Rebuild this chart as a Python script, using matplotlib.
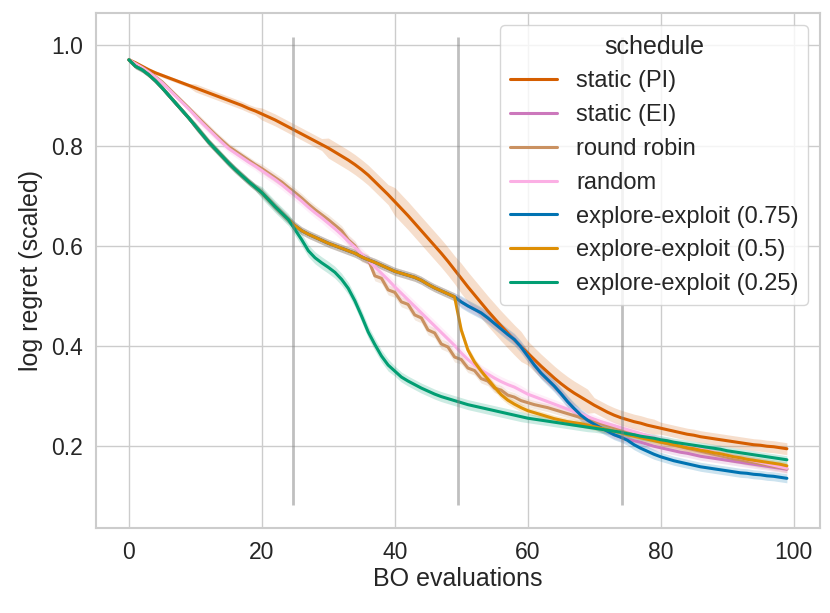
import numpy as np
import matplotlib
matplotlib.use('Agg')
import matplotlib.pyplot as plt
import seaborn as sns

# mean log regret per BO evaluation
evals = list(range(100))

static_pi = [0.971, 0.965, 0.958, 0.951, 0.945, 0.940, 0.935, 0.930, 0.925, 0.920,
             0.915, 0.910, 0.905, 0.900, 0.895, 0.890, 0.885, 0.880, 0.874, 0.869,
             0.863, 0.857, 0.851, 0.844, 0.837, 0.830, 0.823, 0.816, 0.809, 0.802,
             0.795, 0.787, 0.779, 0.771, 0.762, 0.752, 0.741, 0.728, 0.715, 0.702,
             0.688, 0.674, 0.660, 0.645, 0.630, 0.615, 0.600, 0.585, 0.569, 0.552,
             0.535, 0.518, 0.502, 0.486, 0.470, 0.455, 0.440, 0.426, 0.412, 0.399,
             0.386, 0.373, 0.360, 0.348, 0.336, 0.325, 0.315, 0.306, 0.298, 0.290,
             0.282, 0.275, 0.268, 0.262, 0.257, 0.253, 0.249, 0.246, 0.242, 0.239,
             0.236, 0.233, 0.230, 0.227, 0.224, 0.222, 0.219, 0.217, 0.215, 0.213,
             0.211, 0.209, 0.207, 0.205, 0.203, 0.202, 0.200, 0.199, 0.197, 0.195]

static_ei = [0.971, 0.958, 0.951, 0.941, 0.929, 0.915, 0.900, 0.885, 0.870, 0.855,
             0.839, 0.823, 0.807, 0.793, 0.779, 0.765, 0.752, 0.740, 0.728, 0.717,
             0.706, 0.692, 0.678, 0.665, 0.652, 0.640, 0.630, 0.623, 0.617, 0.611,
             0.605, 0.600, 0.595, 0.590, 0.585, 0.578, 0.572, 0.567, 0.561, 0.555,
             0.549, 0.545, 0.541, 0.537, 0.531, 0.523, 0.516, 0.510, 0.504, 0.498,
             0.488, 0.480, 0.473, 0.466, 0.456, 0.445, 0.434, 0.423, 0.413, 0.398,
             0.380, 0.362, 0.346, 0.333, 0.320, 0.305, 0.289, 0.275, 0.262, 0.252,
             0.244, 0.237, 0.230, 0.223, 0.218, 0.214, 0.211, 0.208, 0.204, 0.200,
             0.197, 0.194, 0.191, 0.188, 0.186, 0.183, 0.180, 0.178, 0.176, 0.174,
             0.172, 0.170, 0.168, 0.166, 0.164, 0.162, 0.160, 0.158, 0.156, 0.154]

round_robin = [0.971, 0.963, 0.956, 0.947, 0.937, 0.927, 0.914, 0.901, 0.888, 0.875,
               0.861, 0.848, 0.835, 0.822, 0.810, 0.798, 0.789, 0.780, 0.771, 0.762,
               0.754, 0.745, 0.736, 0.727, 0.716, 0.706, 0.695, 0.683, 0.672, 0.662,
               0.652, 0.641, 0.630, 0.612, 0.600, 0.578, 0.573, 0.540, 0.535, 0.512,
               0.507, 0.488, 0.483, 0.462, 0.456, 0.432, 0.426, 0.404, 0.398, 0.378,
               0.373, 0.356, 0.351, 0.335, 0.330, 0.316, 0.312, 0.302, 0.298, 0.291,
               0.287, 0.283, 0.280, 0.277, 0.273, 0.269, 0.265, 0.261, 0.257, 0.253,
               0.249, 0.245, 0.241, 0.237, 0.233, 0.229, 0.225, 0.221, 0.217, 0.213,
               0.209, 0.205, 0.202, 0.199, 0.196, 0.193, 0.190, 0.187, 0.184, 0.181,
               0.178, 0.175, 0.173, 0.170, 0.168, 0.165, 0.163, 0.160, 0.158, 0.155]

random_sched = [0.971, 0.963, 0.955, 0.946, 0.936, 0.925, 0.912, 0.899, 0.886, 0.873,
                0.859, 0.845, 0.832, 0.819, 0.806, 0.794, 0.785, 0.776, 0.767, 0.759,
                0.750, 0.741, 0.732, 0.722, 0.711, 0.700, 0.689, 0.677, 0.666, 0.656,
                0.645, 0.634, 0.622, 0.609, 0.597, 0.584, 0.571, 0.558, 0.545, 0.532,
                0.518, 0.505, 0.492, 0.479, 0.466, 0.453, 0.440, 0.427, 0.414, 0.401,
                0.386, 0.373, 0.362, 0.352, 0.344, 0.336, 0.329, 0.323, 0.318, 0.311,
                0.304, 0.299, 0.294, 0.289, 0.284, 0.279, 0.274, 0.269, 0.264, 0.259,
                0.254, 0.249, 0.245, 0.241, 0.237, 0.233, 0.229, 0.225, 0.221, 0.217,
                0.213, 0.210, 0.206, 0.203, 0.200, 0.197, 0.194, 0.191, 0.188, 0.185,
                0.182, 0.179, 0.177, 0.174, 0.171, 0.168, 0.165, 0.162, 0.159, 0.156]

# explore-exploit runs follow EI until they switch, these are the values after the switch
ee075_tail = [0.212, 0.203, 0.196, 0.190, 0.184, 0.179, 0.175, 0.171, 0.168, 0.165,
              0.162, 0.159, 0.157, 0.155, 0.153, 0.151, 0.149, 0.147, 0.146, 0.144,
              0.143, 0.141, 0.140, 0.138, 0.136]

ee05_tail = [0.432, 0.392, 0.368, 0.350, 0.334, 0.318, 0.303, 0.292, 0.284, 0.277,
             0.271, 0.267, 0.263, 0.259, 0.255, 0.252, 0.249, 0.247, 0.245, 0.242,
             0.239, 0.236, 0.233, 0.230, 0.227, 0.223, 0.220, 0.217, 0.214, 0.211,
             0.208, 0.206, 0.203, 0.200, 0.197, 0.195, 0.192, 0.190, 0.187, 0.185,
             0.182, 0.179, 0.177, 0.174, 0.172, 0.170, 0.168, 0.166, 0.164, 0.161]

ee025_tail = [0.632, 0.612, 0.590, 0.576, 0.566, 0.557, 0.547, 0.533, 0.515, 0.490,
              0.460, 0.428, 0.403, 0.380, 0.362, 0.350, 0.338, 0.330, 0.323, 0.316,
              0.310, 0.304, 0.299, 0.295, 0.291, 0.287, 0.283, 0.280, 0.277, 0.274,
              0.271, 0.268, 0.265, 0.262, 0.259, 0.256, 0.254, 0.252, 0.250, 0.248,
              0.246, 0.244, 0.242, 0.240, 0.238, 0.236, 0.234, 0.232, 0.230, 0.228,
              0.225, 0.223, 0.220, 0.218, 0.216, 0.213, 0.211, 0.208, 0.206, 0.204,
              0.202, 0.200, 0.198, 0.196, 0.194, 0.191, 0.189, 0.187, 0.185, 0.183,
              0.181, 0.179, 0.177, 0.175, 0.173]

ee075 = static_ei[:75] + ee075_tail
ee05 = static_ei[:50] + ee05_tail
ee025 = static_ei[:25] + ee025_tail

# band half widths, one value per block of 10 evaluations
band_pi = [0.004, 0.008, 0.012, 0.020, 0.028, 0.030, 0.024, 0.015, 0.012, 0.012]
band_ei = [0.005, 0.007, 0.008, 0.008, 0.008, 0.010, 0.010, 0.008, 0.008, 0.008]
band_rr = [0.004, 0.007, 0.009, 0.010, 0.010, 0.009, 0.008, 0.008, 0.008, 0.008]
band_rand = [0.004, 0.008, 0.010, 0.011, 0.011, 0.010, 0.009, 0.008, 0.008, 0.008]
band_075 = [0.005, 0.007, 0.008, 0.008, 0.008, 0.012, 0.012, 0.010, 0.009, 0.009]
band_05 = [0.005, 0.007, 0.008, 0.008, 0.008, 0.008, 0.007, 0.007, 0.007, 0.007]
band_025 = [0.005, 0.007, 0.012, 0.012, 0.010, 0.010, 0.009, 0.008, 0.008, 0.008]

labels = ['static (PI)', 'static (EI)', 'round robin', 'random',
          'explore-exploit (0.75)', 'explore-exploit (0.5)', 'explore-exploit (0.25)']
switch_points = [24.75, 49.5, 74.25]

sns.set_theme(style='whitegrid')
plt.rcParams['font.family'] = ['Liberation Sans', 'DejaVu Sans']
pal = sns.color_palette('colorblind')
colors = [pal[3], pal[4], pal[5], pal[6], pal[0], pal[1], pal[2]]

series = [static_pi, static_ei, round_robin, random_sched, ee075, ee05, ee025]
bands = [band_pi, band_ei, band_rr, band_rand, band_075, band_05, band_025]

fig = plt.figure(figsize=(8.3, 6.13), dpi=100)
ax = fig.add_axes([0.1157, 0.1382, 0.872, 0.8400])

x = np.array(evals)
for mean, hw, lab, col in zip(series, bands, labels, colors):
    mean = np.array(mean)
    hw = np.repeat(hw, 10)
    ax.fill_between(x, mean - hw, mean + hw, color=col, alpha=0.2, linewidth=0)
    ax.plot(x, mean, color=col, lw=2.2, label=lab)

ax.vlines(switch_points, 0.083, 1.017, color='gray', alpha=0.5, lw=2)

ax.set_xticks([0, 20, 40, 60, 80, 100])
ax.set_yticks([0.2, 0.4, 0.6, 0.8, 1.0])
ax.tick_params(labelsize=16.5)
ax.set_xlabel('BO evaluations', fontsize=18, labelpad=2)
ax.set_ylabel('log regret (scaled)', fontsize=18, labelpad=6)
for s in ax.spines.values():
    s.set_color('#cccccc')
    s.set_linewidth(1.5)

leg = ax.legend(title='schedule', loc='upper right', fontsize=17, title_fontsize=18,
                borderaxespad=0.5, labelspacing=0.5)

fig.savefig('out.png', dpi=100)
